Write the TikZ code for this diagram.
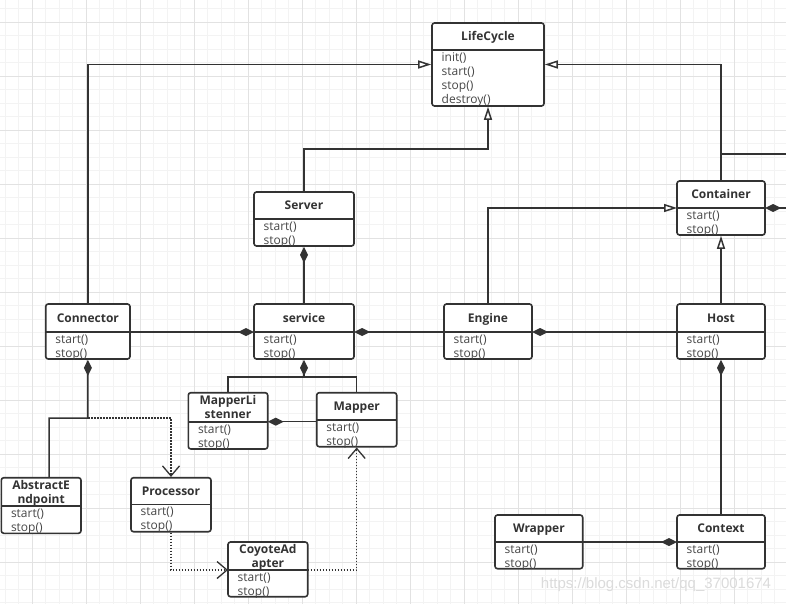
\documentclass[tikz,border=0pt]{standalone}
\usepackage{fontspec}
\newfontfamily\umlfont{Open Sans}
\newfontfamily\wmfont{Liberation Sans}
\usetikzlibrary{arrows.meta,fit,calc}
\definecolor{ink}{HTML}{333333}
\definecolor{gridmajor}{HTML}{E2E2E2}
\definecolor{gridminor}{HTML}{F3F3F3}
\tikzset{
 classbox/.style={draw=ink, line width=1.6pt, fill=white, rounded corners=2.5pt, inner sep=0pt},
 sepline/.style={draw=ink, line width=1.6pt},
 hdr/.style={font=\umlfont\bfseries\fontsize{12}{14}\selectfont, text=ink, inner sep=0pt, anchor=base},
 mth/.style={font=\umlfont\fontsize{12}{14}\selectfont, text=ink!90, inner sep=0pt, anchor=base west},
 conn/.style={draw=ink, line width=1.5pt},
 gen/.style={conn, arrows={-Triangle[open, length=13pt, width=8pt, fill=white]}},
 comp/.style={conn, arrows={Diamond[length=16pt, width=8pt]-}},
 dep/.style={conn, dash pattern=on 1.5pt off 1.5pt, arrows={-Straight Barb[length=10pt, width=17pt, line width=1.3pt]}},
}
\newcommand\umlclass[8]{%
 \node[classbox, fit={(#2,#3) (#4,#5)}] (#1) {};
 \coordinate (#1-l) at (#2,#6);
 \coordinate (#1-r) at (#4,#6);
 \draw[sepline] (#1-l) -- (#1-r);
 \foreach \h [count=\k] in {#7} {\xdef\hdrn{\k}}
 \foreach \h [count=\k] in {#7} {\node[hdr] (#1-h\k) at ({(#2+#4)/2}, {(#3+#6)/2+4.3+14*(\k-1)-7*(\hdrn-1)}) {\h};}
 \foreach \m [count=\k] in {#8} {\node[mth] (#1-m\k) at ({#2+9.5}, {#6+11.5+14*(\k-1)}) {\m};}
}
\begin{document}
\begin{tikzpicture}[x=1pt, y=-1pt]
\useasboundingbox (0,0) rectangle (786,604);
\fill[white] (0,0) rectangle (786,604);
\begin{scope}
\clip (0,0) rectangle (786,604);
\foreach \i in {0,...,58} {
  \draw[gridminor, line width=1pt] ({5.3+13.5*\i},0) -- ({5.3+13.5*\i},604);
}
\foreach \i in {0,...,45} {
  \draw[gridminor, line width=1pt] (0,{8.8+13.5*\i}) -- (786,{8.8+13.5*\i});
}
\foreach \i in {-1,...,14} {
  \draw[gridmajor, line width=1pt] ({32.3+54*\i},0) -- ({32.3+54*\i},604);
}
\foreach \i in {-1,...,11} {
  \draw[gridmajor, line width=1pt] (0,{22.3+54*\i}) -- (786,{22.3+54*\i});
}
\end{scope}

\coordinate (offTop) at (786,154);
\coordinate (offSide) at (786,208);
\coordinate (srvbend) at (488,149);
\coordinate (svcj) at (304,377);
\coordinate (cj) at (88,418);

% classes
\umlclass{LifeCycle}{432}{23}{544}{106}{50}{LifeCycle}{init(),start(),stop(),destroy()}
\umlclass{Server}{254}{192}{354}{246}{219}{Server}{start(),stop()}
\umlclass{Container}{677}{181}{765}{235}{208}{Container}{start(),stop()}
\umlclass{Connector}{45.7}{304}{130}{359}{332}{Connector}{start(),stop()}
\umlclass{service}{254}{304}{354}{359}{332}{service}{start(),stop()}
\umlclass{Engine}{444}{304}{532}{359}{332}{Engine}{start(),stop()}
\umlclass{Host}{677}{304}{765}{359}{332}{Host}{start(),stop()}
\umlclass{MapperListenner}{188.3}{392.7}{267.7}{449}{421.7}{MapperLi,stenner}{start(),stop()}
\umlclass{Mapper}{316.7}{392.7}{396.7}{446.7}{420}{Mapper}{start(),stop()}
\umlclass{AbstractEndpoint}{1.3}{477.7}{81}{533.3}{506}{AbstractE,ndpoint}{start(),stop()}
\umlclass{Processor}{131}{477.7}{211}{531.7}{504.3}{Processor}{start(),stop()}
\umlclass{CoyoteAdapter}{228}{542}{307.7}{596.7}{570}{CoyoteAd,apter}{start(),stop()}
\umlclass{Wrapper}{495}{515}{582.7}{568.7}{542}{Wrapper}{start(),stop()}
\umlclass{Context}{677}{515}{765}{568.7}{542}{Context}{start(),stop()}

% generalizations
\draw[gen] (Connector.north) |- (LifeCycle.west);
\draw[gen] (Container.north) |- (LifeCycle.east);
\draw[gen] (Server.north) |- (srvbend) -- (LifeCycle.south);
\draw[gen] (Engine.north) |- (Container-l);
\draw[gen] (Host.north) -- (Container.south);
\draw[conn] (Container.north |- offTop) -- (offTop);

% compositions
\draw[comp] (Container-r) -- (offSide);
\draw[comp] (Server.south) -- (service.north);
\draw[comp] (service-l) -- (Connector-r);
\draw[comp] (service-r) -- (Engine-l);
\draw[comp] (Engine-r) -- (Host-l);
\draw[comp] (Host.south) -- (Context.north);
\draw[comp] (Context-l) -- (Wrapper-r);
\draw[comp] (service.south) -- (svcj);
\draw[conn] (svcj) -| (MapperListenner.north);
\draw[conn] (svcj) -| (Mapper.north);
\draw[comp] (MapperListenner-r) -- (MapperListenner-r -| Mapper.west);
\draw[comp] (Connector.south) -- (cj) -| ($(AbstractEndpoint.north)+(8,0)$);

% dependencies
\draw[dep] (cj) -| (Processor.north);
\draw[dep] (Processor.south) |- (CoyoteAdapter-l);
\draw[dep] (CoyoteAdapter-r) -| (Mapper.south);

% watermark
\node[font=\wmfont\fontsize{15}{15}\selectfont, text=black!14, inner sep=0pt] (wm) at (656,585) {https://blog.csdn.net/qq\_37001674};
\end{tikzpicture}
\end{document}
